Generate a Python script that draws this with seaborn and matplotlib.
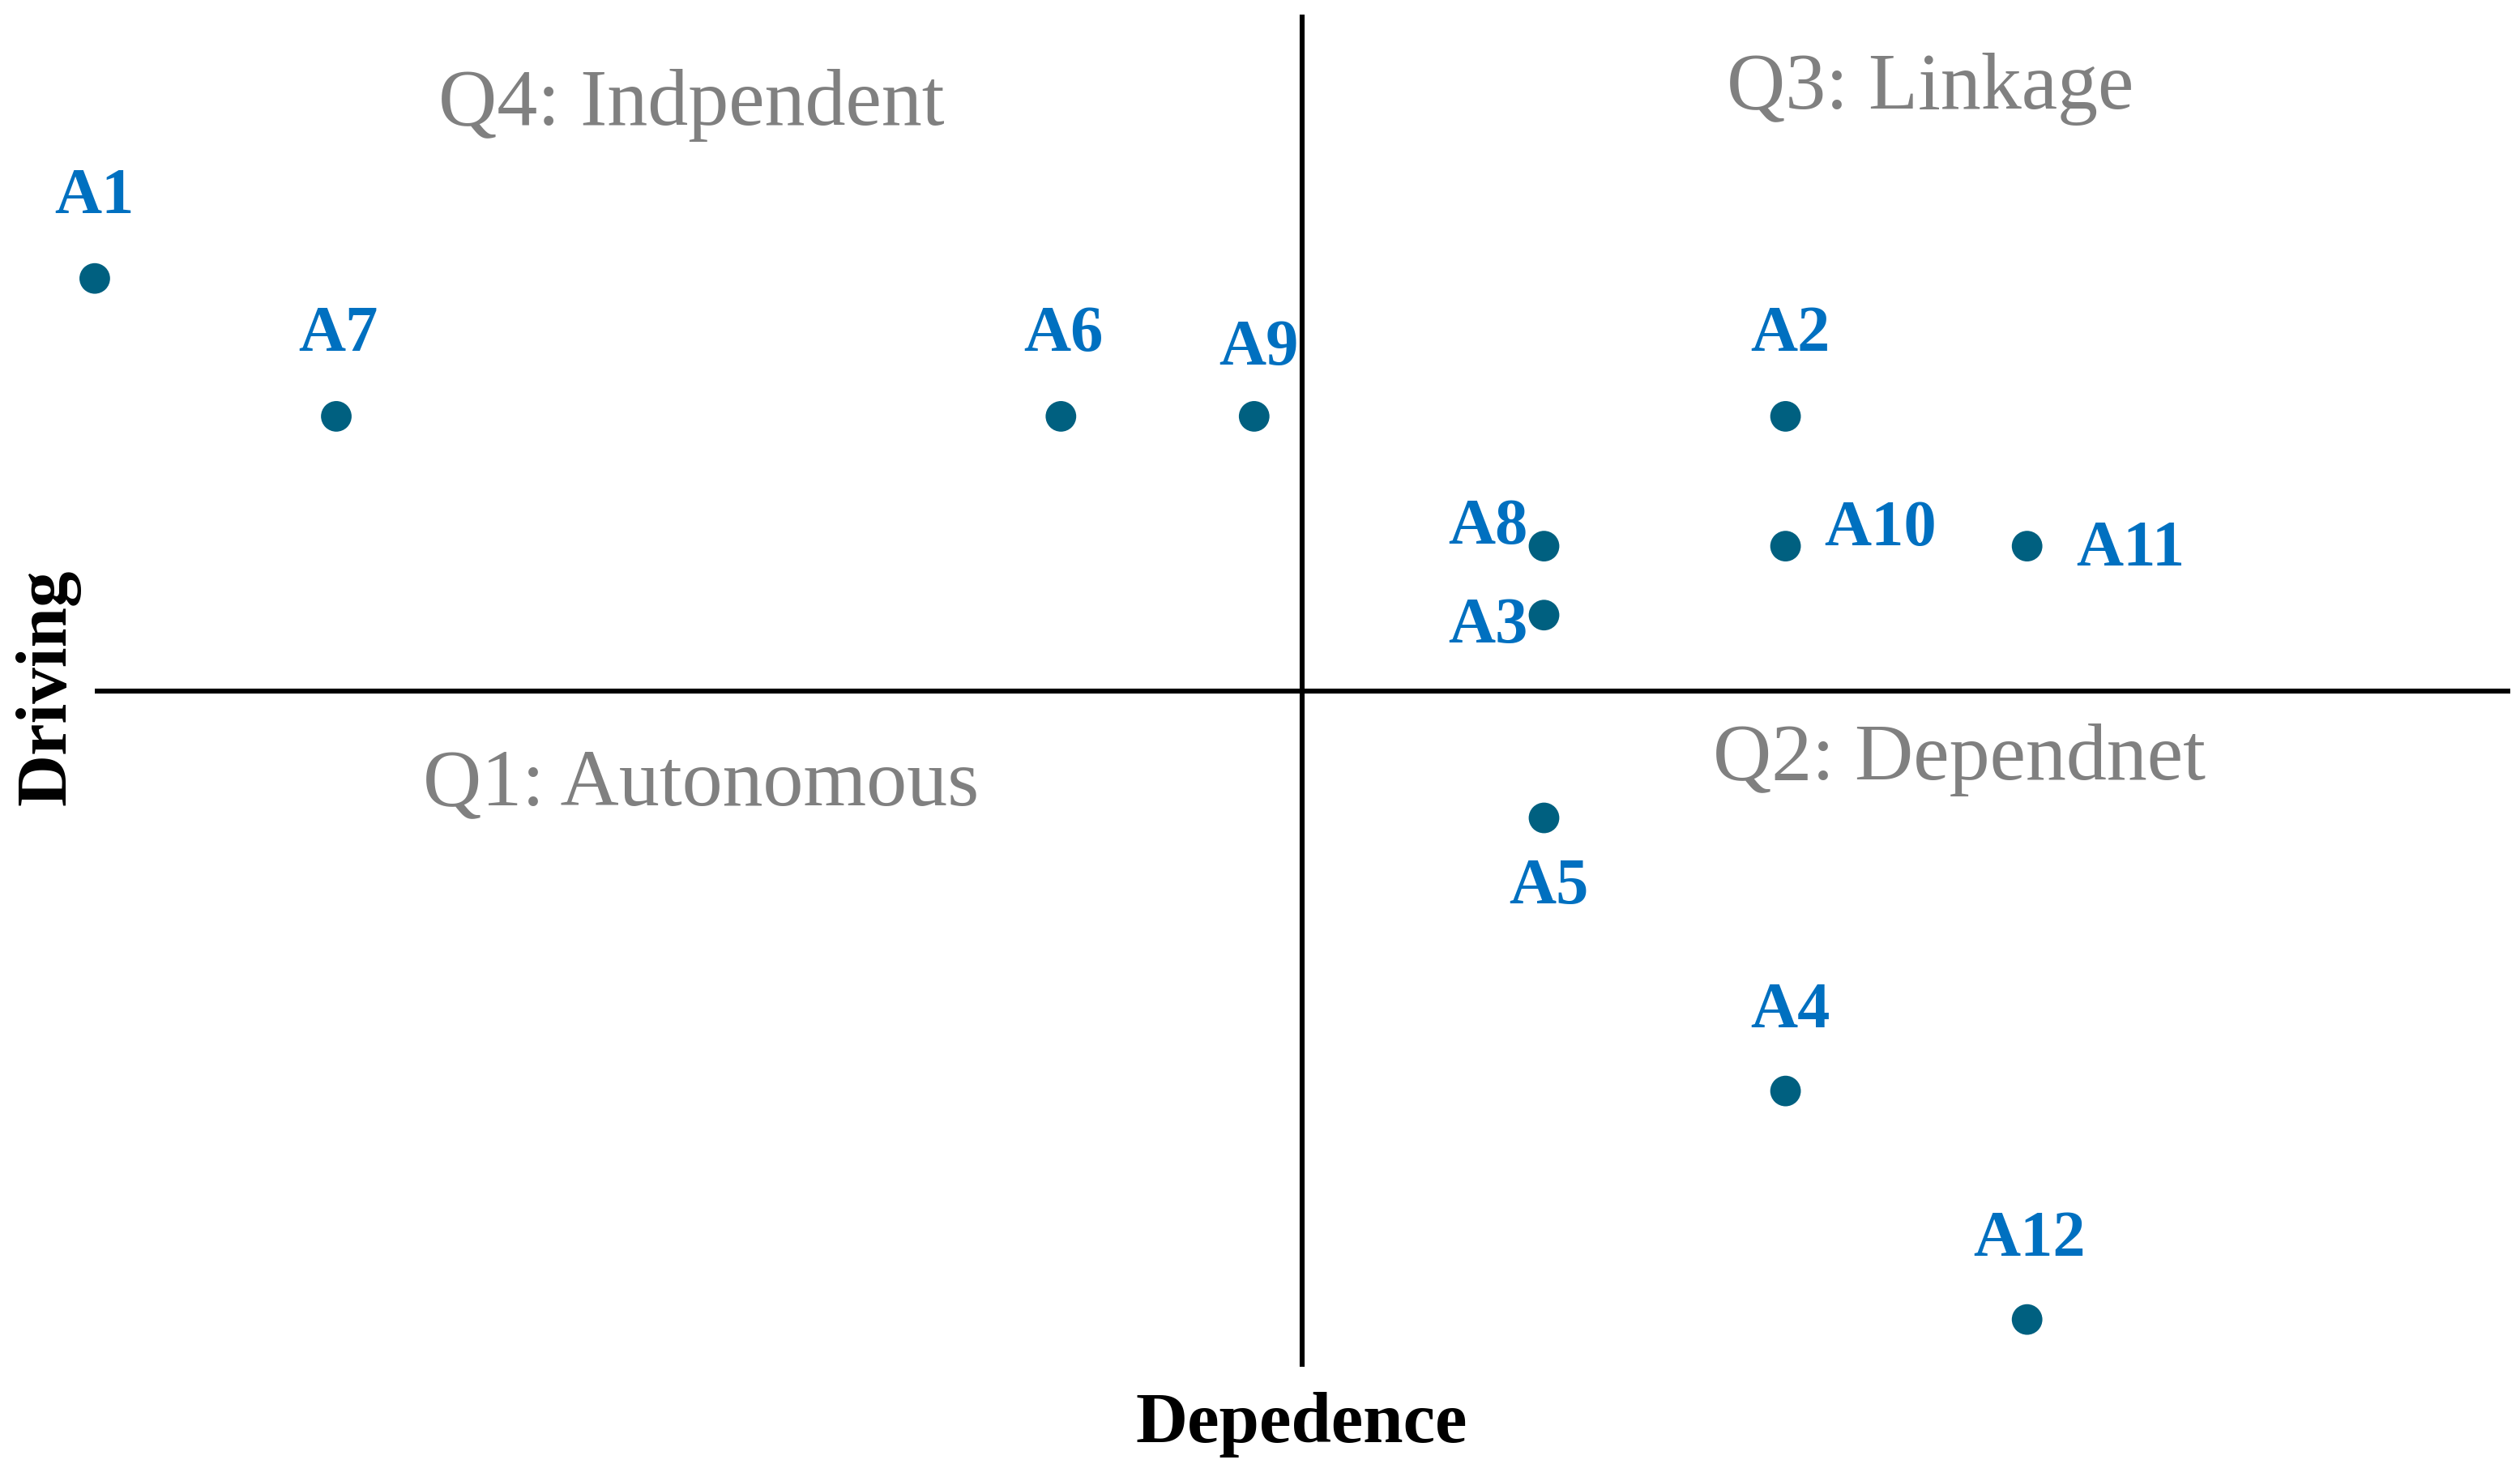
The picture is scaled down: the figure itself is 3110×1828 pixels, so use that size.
import matplotlib
matplotlib.use("Agg")
import matplotlib.pyplot as plt
import seaborn as sns
import pandas as pd

# Factor positions on the driving / dependence map
factors = ["A1", "A7", "A6", "A9", "A2", "A8", "A10", "A11", "A3", "A5", "A4", "A12"]
dependence = [-5.0, -4.0, -1.0, -0.2, 2.0, 1.0, 2.0, 3.0, 1.0, 1.0, 2.0, 3.0]
driving = [3.05, 2.03, 2.03, 2.03, 2.03, 1.07, 1.07, 1.07, 0.56, -0.94, -2.96, -4.65]

quadrants = ["Q4: Indpendent", "Q3: Linkage", "Q1: Autonomous", "Q2: Dependnet"]

df = pd.DataFrame({"factor": factors, "dependence": dependence, "driving": driving})

sns.set_theme(style="white")
plt.rcParams["font.family"] = ["Liberation Serif", "DejaVu Serif"]

fig = plt.figure(figsize=(15.55, 9.14), dpi=200)
ax = fig.add_axes([0.0376, 0.0771, 0.9585, 0.9129])

ax.axhline(0, color="black", lw=2.2, zorder=1)
ax.axvline(0, color="black", lw=2.2, zorder=1)

sns.scatterplot(data=df, x="dependence", y="driving", ax=ax, s=185,
                color="#006080", edgecolor="none", zorder=3, clip_on=False)

# label offsets in points (dx, dy)
offsets = {
    "A1": (0, 36), "A7": (1, 36), "A6": (1, 36), "A9": (2, 30), "A2": (2, 36),
    "A8": (-25, 8), "A10": (42, 7.5), "A11": (46, -1.5), "A3": (-25, -5),
    "A5": (2, -31), "A4": (2, 35.5), "A12": (1, 35.5),
}
for _, row in df.iterrows():
    dx, dy = offsets[row["factor"]]
    ax.annotate(row["factor"], (row["dependence"], row["driving"]),
                xytext=(dx, dy), textcoords="offset points",
                ha="center", va="center", fontsize=29, fontweight="bold",
                color="#0070C0")

# quadrant names
quad_pos = [(-2.53, 4.33), (2.60, 4.45), (-2.49, -0.70), (2.72, -0.51)]
for name, (qx, qy) in zip(quadrants, quad_pos):
    ax.text(qx, qy, name, ha="center", va="center", fontsize=36, color="#808080")

ax.set_xlim(-5, 5)
ax.set_ylim(-5, 5)
ax.set_xticks([])
ax.set_yticks([])
ax.set_xlabel("")
ax.set_ylabel("")
for sp in ax.spines.values():
    sp.set_visible(False)

fig.text(0.5165, 0.038, "Depedence", ha="center", va="center",
         fontsize=32, fontweight="bold", color="black")
fig.text(0.0191, 0.5357, "Driving", ha="center", va="center", rotation=90,
         fontsize=32, fontweight="bold", color="black")

fig.savefig("out.png", dpi=200, facecolor="white")
